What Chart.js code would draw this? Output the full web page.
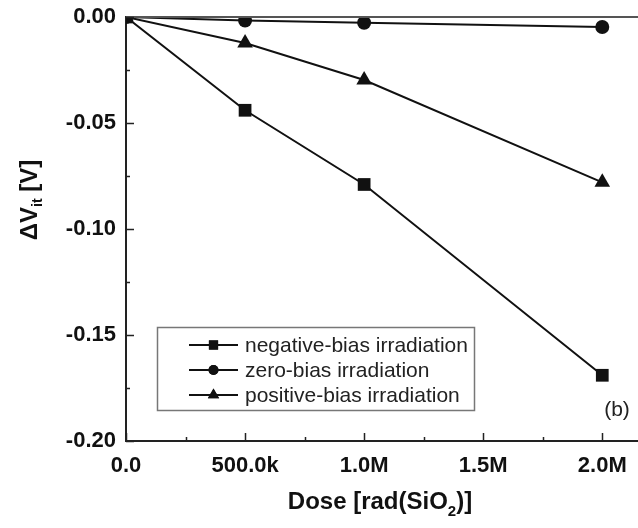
<!DOCTYPE html>
<html>
<head>
<meta charset="utf-8">
<script src="https://cdn.jsdelivr.net/npm/chart.js@4"></script>
<style>
  html, body { margin: 0; padding: 0; background: #fff; }
  #wrap { width: 638px; height: 528px; }
</style>
</head>
<body>
<div id="wrap"><canvas id="doseChart" width="638" height="528"></canvas></div>
<script>
// Dose points (rad(SiO2)) and measured shifts (V)
const doseValues = [0, 500000, 1000000, 2000000];
const negativeBias = [0, -0.044, -0.079, -0.169];
const zeroBias = [0, -0.0017, -0.0027, -0.0047];
const positiveBias = [0, -0.0123, -0.0297, -0.078];

const seriesNames = ['negative-bias irradiation', 'zero-bias irradiation', 'positive-bias irradiation'];
const seriesMarkers = ['rect', 'circle', 'triangle'];

// tick values and labels
const xTicks = [0, 500000, 1000000, 1500000, 2000000];
const xTickLabels = ['0.0', '500.0k', '1.0M', '1.5M', '2.0M'];
const xMinorTicks = [250000, 750000, 1250000, 1750000];
const yTicks = [0, -0.05, -0.10, -0.15, -0.20];
const yTickLabels = ['0.00', '-0.05', '-0.10', '-0.15', '-0.20'];
const yMinorTicks = [-0.025, -0.075, -0.125, -0.175];

const FONT = '"Liberation Sans", Arial, Helvetica, sans-serif';

function toPoints(ys) {
    return doseValues.map(function(x, i) { return { x: x, y: ys[i] }; });
}

function makeSet(label, ys, marker, radius) {
    return {
        label: label,
        data: toPoints(ys),
        borderColor: '#111',
        backgroundColor: '#111',
        borderWidth: 2,
        pointStyle: marker,
        pointRadius: radius,
        pointBorderWidth: 0,
        tension: 0
    };
}

// draws the inner ticks, titles, legend box and panel tag
const decorations = {
    id: 'decorations',
    afterDraw: function(chart) {
        const ctx = chart.ctx;
        const xs = chart.scales.x;
        const ys = chart.scales.y;
        const area = chart.chartArea;

        ctx.save();
        // top frame line
        ctx.strokeStyle = '#555';
        ctx.lineWidth = 2;
        ctx.beginPath();
        ctx.moveTo(area.left, area.top);
        ctx.lineTo(area.right, area.top);
        ctx.stroke();

        // inward ticks
        ctx.strokeStyle = '#222';
        ctx.lineWidth = 1.5;
        ctx.beginPath();
        xTicks.forEach(function(v) {
            const px = Math.round(xs.getPixelForValue(v)) + 0.5;
            ctx.moveTo(px, area.bottom);
            ctx.lineTo(px, area.bottom - 8);
        });
        xMinorTicks.forEach(function(v) {
            const px = Math.round(xs.getPixelForValue(v)) + 0.5;
            ctx.moveTo(px, area.bottom);
            ctx.lineTo(px, area.bottom - 4);
        });
        yTicks.forEach(function(v) {
            const py = Math.round(ys.getPixelForValue(v)) + 0.5;
            ctx.moveTo(area.left, py);
            ctx.lineTo(area.left + 8, py);
        });
        yMinorTicks.forEach(function(v) {
            const py = Math.round(ys.getPixelForValue(v)) + 0.5;
            ctx.moveTo(area.left, py);
            ctx.lineTo(area.left + 4, py);
        });
        ctx.stroke();

        ctx.fillStyle = '#111';

        // y title: ΔV_it [V]
        ctx.save();
        ctx.translate(37, 200);
        ctx.rotate(-Math.PI / 2);
        ctx.textBaseline = 'alphabetic';
        const mainA = '\u0394V';
        const tail = ' [V]';
        ctx.font = 'bold 24px ' + FONT;
        const wA = ctx.measureText(mainA).width;
        const wT = ctx.measureText(tail).width;
        ctx.font = 'bold 14px ' + FONT;
        const wS = ctx.measureText('it').width;
        let sx = -(wA + wS + wT) / 2;
        ctx.font = 'bold 24px ' + FONT;
        ctx.textAlign = 'left';
        ctx.fillText(mainA, sx, 0);
        sx += wA;
        ctx.font = 'bold 14px ' + FONT;
        ctx.fillText('it', sx, 5);
        sx += wS;
        ctx.font = 'bold 24px ' + FONT;
        ctx.fillText(tail, sx, 0);
        ctx.restore();

        // x title: Dose [rad(SiO2)]
        ctx.textAlign = 'left';
        ctx.textBaseline = 'alphabetic';
        ctx.font = 'bold 24px ' + FONT;
        const xa = 'Dose [rad(SiO';
        const xb = ')]';
        const wxa = ctx.measureText(xa).width;
        const wxb = ctx.measureText(xb).width;
        ctx.font = 'bold 15px ' + FONT;
        const wx2 = ctx.measureText('2').width;
        let tx = 380 - (wxa + wx2 + wxb) / 2;
        ctx.font = 'bold 24px ' + FONT;
        ctx.fillText(xa, tx, 509);
        tx += wxa;
        ctx.font = 'bold 15px ' + FONT;
        ctx.fillText('2', tx, 516);
        tx += wx2;
        ctx.font = 'bold 24px ' + FONT;
        ctx.fillText(xb, tx, 509);

        // legend box
        ctx.strokeStyle = '#777';
        ctx.lineWidth = 1.5;
        ctx.strokeRect(157.5, 327.5, 317, 83);
        const rows = [345, 370, 395];
        const sizes = [6.5, 5, 6.5];
        ctx.font = '21px ' + FONT;
        ctx.textBaseline = 'middle';
        rows.forEach(function(ry, i) {
            ctx.strokeStyle = '#111';
            ctx.lineWidth = 2;
            ctx.beginPath();
            ctx.moveTo(189, ry);
            ctx.lineTo(238, ry);
            ctx.stroke();
            Chart.helpers.drawPoint(ctx, {
                pointStyle: seriesMarkers[i],
                radius: sizes[i],
                borderWidth: 0,
                rotation: 0
            }, 213.5, ry);
            ctx.fillStyle = '#111';
            ctx.fill();
            ctx.fillStyle = '#222';
            ctx.fillText(seriesNames[i], 245, ry + 1);
        });

        // panel tag
        ctx.font = '21px ' + FONT;
        ctx.textAlign = 'center';
        ctx.fillText('(b)', 617, 410);
        ctx.restore();
    }
};

const ctx = document.getElementById('doseChart').getContext('2d');
new Chart(ctx, {
    type: 'line',
    data: {
        datasets: [
            makeSet(seriesNames[0], negativeBias, seriesMarkers[0], 9),
            makeSet(seriesNames[1], zeroBias, seriesMarkers[1], 7),
            makeSet(seriesNames[2], positiveBias, seriesMarkers[2], 9)
        ]
    },
    options: {
        responsive: false,
        animation: false,
        layout: { autoPadding: false, padding: { top: 17, right: 0, left: 0, bottom: 0 } },
        plugins: {
            legend: { display: false },
            tooltip: { enabled: false }
        },
        scales: {
            x: {
                type: 'linear',
                min: 0,
                max: 2150000,
                grid: { display: false, drawTicks: false },
                border: { display: true, color: '#222', width: 2 },
                afterBuildTicks: function(scale) {
                    scale.ticks = xTicks.map(function(v) { return { value: v }; });
                },
                afterFit: function(scale) {
                    scale.height = 87;
                    scale.paddingLeft = 0;
                    scale.paddingRight = 0;
                },
                ticks: {
                    padding: 12,
                    maxRotation: 0,
                    autoSkip: false,
                    color: '#111',
                    font: { family: FONT, size: 22, weight: 'bold' },
                    callback: function(value) {
                        const i = xTicks.indexOf(value);
                        return i >= 0 ? xTickLabels[i] : '';
                    }
                }
            },
            y: {
                type: 'linear',
                min: -0.2,
                max: 0,
                grid: { display: false, drawTicks: false },
                border: { display: true, color: '#222', width: 2 },
                afterBuildTicks: function(scale) {
                    scale.ticks = yTicks.map(function(v) { return { value: v }; });
                },
                afterFit: function(scale) {
                    scale.width = 126;
                    scale.paddingTop = 0;
                    scale.paddingBottom = 0;
                },
                ticks: {
                    padding: 10,
                    autoSkip: false,
                    color: '#111',
                    font: { family: FONT, size: 22, weight: 'bold' },
                    callback: function(value) {
                        const i = yTicks.findIndex(function(t) { return Math.abs(t - value) < 1e-9; });
                        return i >= 0 ? yTickLabels[i] : '';
                    }
                }
            }
        }
    },
    plugins: [decorations]
});
</script>
</body>
</html>
